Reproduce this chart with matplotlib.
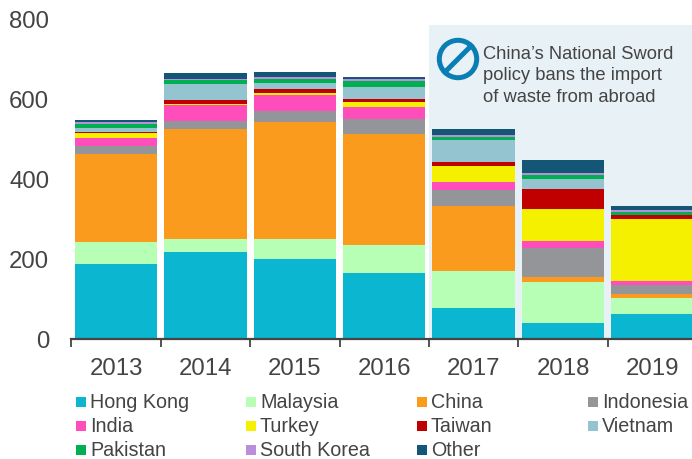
# plot.py
# Stacked bars of plastic waste destinations by year

import matplotlib
matplotlib.use("Agg")
import matplotlib.pyplot as plt
from matplotlib.patches import Circle, Rectangle
from matplotlib.lines import Line2D

YEARS = ["2013", "2014", "2015", "2016", "2017", "2018", "2019"]

HONG_KONG = [187, 217, 200, 165, 76, 39, 61]
MALAYSIA = [55, 32, 50, 70, 93, 102, 40]
CHINA = [220, 276, 292, 277, 163, 13, 10]
INDONESIA = [20, 18, 27, 37, 39, 72, 22]
INDIA = [20, 41, 41, 31, 20, 19, 11]
TURKEY = [11, 3, 3, 12, 40, 79, 154]
TAIWAN = [4, 10, 10, 6, 10, 51, 11]
VIETNAM = [10, 40, 17, 31, 55, 23, 1]
PAKISTAN = [9, 9, 8, 14, 8, 10, 6]
SOUTH_KOREA = [6, 4, 7, 5, 6, 6, 5]
OTHER = [5, 13, 11, 6, 15, 32, 10]

SERIES = [
    ("Hong Kong", HONG_KONG, "#0BB6D1"),
    ("Malaysia", MALAYSIA, "#B6FFB4"),
    ("China", CHINA, "#FB9B1E"),
    ("Indonesia", INDONESIA, "#939598"),
    ("India", INDIA, "#FF4DBB"),
    ("Turkey", TURKEY, "#F5F000"),
    ("Taiwan", TAIWAN, "#C00000"),
    ("Vietnam", VIETNAM, "#93C4CF"),
    ("Pakistan", PAKISTAN, "#00B050"),
    ("South Korea", SOUTH_KOREA, "#B98FDC"),
    ("Other", OTHER, "#135675"),
]

NOTE = "China\u2019s National Sword\npolicy bans the import\nof waste from abroad"

TEXT_COLOR = "#444444"
ICON_COLOR = "#0A7DB5"
SHADE_COLOR = "#E8F1F5"

WIDTH = 692
HEIGHT = 460

# legend columns and rows, in pixels from the top left
LEGEND_COLS = [76, 246, 417, 588]
LEGEND_ROWS = [403, 427, 451]


# pixels from the top left to figure fractions
def fx(x):
    return x / WIDTH


def fy(y):
    return 1 - y / HEIGHT


def draw_legend(fig):
    for i, (name, _, color) in enumerate(SERIES):
        x = LEGEND_COLS[i % 4]
        y = LEGEND_ROWS[i // 4]
        fig.add_artist(Rectangle((fx(x), fy(y + 5)), 10 / WIDTH, 10 / HEIGHT,
                                 transform=fig.transFigure, color=color, lw=0))
        fig.text(fx(x + 14), fy(y), name, fontsize=14.2, color=TEXT_COLOR, va="center")


def draw_note(fig):
    cx, cy = 458, 60
    fig.add_artist(Circle((cx, HEIGHT - cy), 18.7, transform=None, fill=False,
                          ec=ICON_COLOR, lw=3.6))
    fig.add_artist(Line2D([fx(cx - 13), fx(cx + 13)], [fy(cy + 13), fy(cy - 13)],
                          transform=fig.transFigure, color=ICON_COLOR, lw=3.6))
    fig.text(fx(483), fy(76), NOTE, fontsize=13.2, color=TEXT_COLOR, va="center",
             linespacing=1.37)


def main():
    plt.rcParams["font.family"] = ["Liberation Sans", "DejaVu Sans"]

    fig = plt.figure(figsize=(WIDTH / 100, HEIGHT / 100), dpi=100)
    ax = fig.add_axes([fx(71.4), fy(339.6), (697 - 71.4) / WIDTH, 320 / HEIGHT])

    # the shaded period after the ban
    ax.axvspan(3.5, 6.5, ymin=0, ymax=785 / 800, color=SHADE_COLOR, lw=0, zorder=0)

    positions = range(len(YEARS))
    bottom = [0] * len(YEARS)
    for name, values, color in SERIES:
        ax.bar(positions, values, width=0.92, bottom=bottom, color=color, zorder=2)
        bottom = [b + v for b, v in zip(bottom, values)]

    ax.set_xlim(-0.5, 6.5)
    ax.set_ylim(0, 800)
    ax.set_yticks([0, 200, 400, 600, 800])

    # ticks sit between the bars, labels sit under the bars
    ax.set_xticks([i - 0.5 for i in range(len(YEARS) + 1)])
    ax.set_xticklabels([])
    ax.set_xticks(list(positions), minor=True)
    ax.set_xticklabels(YEARS, minor=True)

    for side in ["top", "right", "left"]:
        ax.spines[side].set_visible(False)
    ax.spines["bottom"].set_color(TEXT_COLOR)
    ax.spines["bottom"].set_linewidth(1.6)
    ax.spines["bottom"].set_zorder(3)

    ax.tick_params(axis="y", length=0, pad=16, labelsize=17.3, labelcolor=TEXT_COLOR)
    ax.tick_params(axis="x", which="major", length=5.5, width=1.3, color=TEXT_COLOR)
    ax.tick_params(axis="x", which="minor", length=0, pad=13, labelsize=17.3,
                   labelcolor=TEXT_COLOR)

    draw_legend(fig)
    draw_note(fig)

    fig.savefig("out.png", dpi=100)


if __name__ == "__main__":
    main()
